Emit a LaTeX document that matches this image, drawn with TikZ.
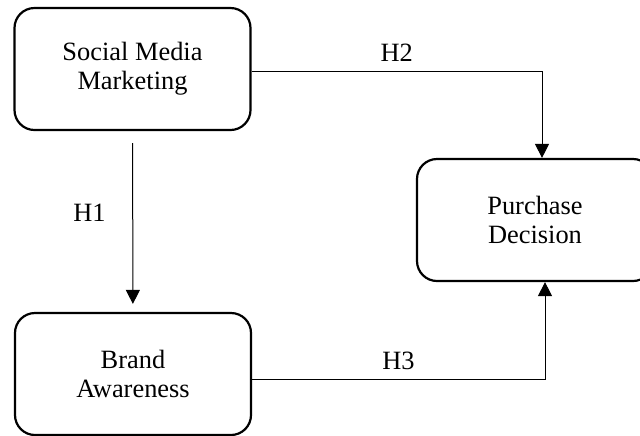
\documentclass[tikz,border=0pt]{standalone}
\usepackage{fontspec}
\setmainfont{Liberation Serif}
\usetikzlibrary{arrows.meta, positioning}

\begin{document}
\begin{tikzpicture}[x=0.5pt, y=-0.5pt,
  var/.style={rectangle, draw, line width=1.1pt, rounded corners=10pt,
              minimum width=118pt, minimum height=61pt, align=center,
              font=\fontsize{13.2}{14.6}\selectfont},
  arr/.style={-{Triangle[length=7pt, width=7pt]}, line width=0.5pt},
  hyp/.style={font=\fontsize{13.2}{14.6}\selectfont}
]
\useasboundingbox (0,0) rectangle (640,435);
\node[var] (smm) at (132.5,69)  {Social Media\\Marketing};
\node[var] (bra) at (133,374)   {Brand\\Awareness};
\node[var] (pd)  at (535,220)   {Purchase\\Decision};

\draw[arr, shorten <=6pt, shorten >=4pt] (smm) -- (bra)
  node[hyp, pos=0.45, left=10pt] {H1};
\draw[arr] ([yshift=-1pt]smm.east) -| ([xshift=3.5pt]pd.north)
  node[hyp, pos=0.25, above=1pt] {H2};
\draw[arr] ([yshift=-2.5pt]bra.east) -| ([xshift=5pt]pd.south)
  node[hyp, pos=0.25, above=1pt] {H3};
\end{tikzpicture}
\end{document}
